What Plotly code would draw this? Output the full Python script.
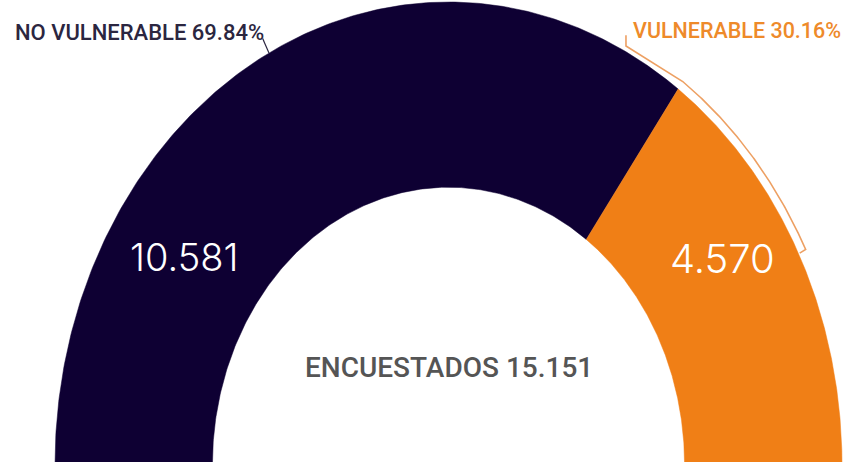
import numpy as np
import plotly.graph_objects as go

# ---- data ----
labels = ["NO VULNERABLE", "VULNERABLE"]
values = [10581, 4570]
percent_labels = ["69.84%", "30.16%"]
value_labels = ["10.581", "4.570"]
total_label = "ENCUESTADOS 15.151"
colors = ["#0e0033", "#f07f16"]

HOLE = 0.6
W, H = 844, 462

total = sum(values)
fig = go.Figure()

start = 180.0
spans = []
for lab, v, c in zip(labels, values, colors):
    span = 180.0 * v / total
    end = start - span
    t_out = np.radians(np.linspace(start, end, 240))
    t_in = t_out[::-1]
    xs = np.concatenate([np.cos(t_out), HOLE * np.cos(t_in), [np.cos(t_out[0])]])
    ys = np.concatenate([np.sin(t_out), HOLE * np.sin(t_in), [np.sin(t_out[0])]])
    fig.add_trace(go.Scatter(
        x=xs, y=ys, fill="toself", fillcolor=c, mode="lines",
        line=dict(color=c, width=0.5), hoverinfo="text",
        text=f"{lab}: {v:,}".replace(",", "."), showlegend=False))
    spans.append((start, end))
    start = end

# leader for first slice (radial tick at mid angle)
mid0 = np.radians(sum(spans[0]) / 2)
fig.add_trace(go.Scatter(
    x=[1.0 * np.cos(mid0), 1.035 * np.cos(mid0)],
    y=[1.0 * np.sin(mid0), 1.035 * np.sin(mid0)],
    mode="lines", line=dict(color="#2b2640", width=1.2),
    hoverinfo="skip", showlegend=False))

# bracket for second slice
a0, a1 = spans[1][0], sum(spans[1]) / 2
tb = np.radians(np.linspace(a0, a1, 120))
RB = 1.02
bx = list(RB * np.cos(tb)) + [1.003 * np.cos(tb[-1])]
by = list(RB * np.sin(tb)) + [1.003 * np.sin(tb[-1])]
# leader up to label
lx = [0.451, 0.451]
ly = [0.905, 0.928]
fig.add_trace(go.Scatter(
    x=lx[::-1] + bx, y=ly[::-1] + by,
    mode="lines", line=dict(color="#eda063", width=1.6),
    hoverinfo="skip", showlegend=False))

cx_px, cy_px, ax_px, ay_px = 448.5, 465.0, 393.5, 463.0
xr = [-cx_px / ax_px, (W - cx_px) / ax_px]
yr = [(cy_px - H) / ay_px, cy_px / ay_px]

def px(x):
    return x / W

def py(y):
    return 1 - y / H

annotations = [
    dict(x=px(13), y=py(33), xanchor="left", yanchor="middle",
         text=f"{labels[0]} {percent_labels[0]}",
         font=dict(family="Roboto", size=22, color="#2b2640", weight=500)),
    dict(x=px(843), y=py(30), xanchor="right", yanchor="middle",
         text=f"{labels[1]} {percent_labels[1]}",
         font=dict(family="Roboto", size=21.5, color="#ee8a2a", weight=500)),
    dict(x=px(449), y=py(367), xanchor="center", yanchor="middle",
         text=total_label,
         font=dict(family="Roboto", size=28, color="#555555", weight=500)),
    dict(x=px(184), y=py(257), xanchor="center", yanchor="middle",
         text=value_labels[0],
         font=dict(family="Inter", size=38, color="#ffffff", weight=300)),
    dict(x=px(722), y=py(258), xanchor="center", yanchor="middle",
         text=value_labels[1],
         font=dict(family="Inter", size=40, color="#ffffff", weight=300)),
]
for a in annotations:
    a.update(xref="paper", yref="paper", showarrow=False)

fig.update_layout(
    width=W, height=H,
    margin=dict(l=0, r=0, t=0, b=0),
    paper_bgcolor="white", plot_bgcolor="white",
    xaxis=dict(range=xr, visible=False, fixedrange=True),
    yaxis=dict(range=yr, visible=False, fixedrange=True),
    annotations=annotations,
    showlegend=False,
)

fig.write_html("out.html", config={"displayModeBar": False},
               post_script="document.body.style.margin='0';")
